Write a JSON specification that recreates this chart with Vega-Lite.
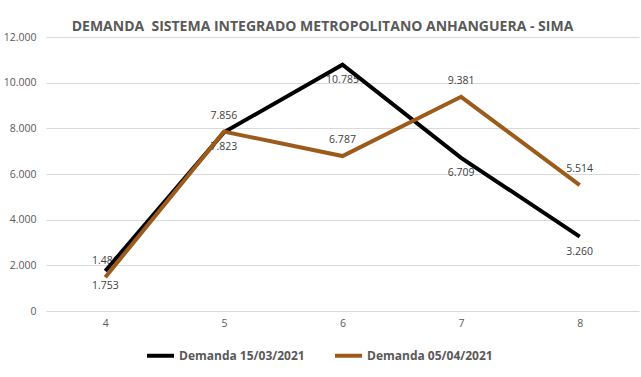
{
  "$schema": "https://vega.github.io/schema/vega-lite/v6.json",
  "autosize": {"type": "none"},
  "width": 593,
  "height": 274,
  "padding": {"left": 46, "top": 37, "right": 2, "bottom": 66},
  "background": "#ffffff",
  "title": {
    "text": "DEMANDA\u00a0 SISTEMA INTEGRADO METROPOLITANO ANHANGUERA - SIMA",
    "anchor": "middle",
    "frame": "group",
    "dx": -20,
    "dy": 18,
    "offset": 5,
    "baseline": "alphabetic",
    "font": "Open Sans",
    "fontSize": 14,
    "fontWeight": "bold",
    "color": "#595959"
  },
  "config": {
    "locale": {"number": {"decimal": ",", "thousands": ".", "grouping": [3], "currency": ["R$", ""]}},
    "view": {"stroke": null},
    "font": "Open Sans"
  },
  "data": {
    "values": [
      {"dia": 4, "serie": "Demanda 15/03/2021", "valor": 1753},
      {"dia": 5, "serie": "Demanda 15/03/2021", "valor": 7823},
      {"dia": 6, "serie": "Demanda 15/03/2021", "valor": 10785},
      {"dia": 7, "serie": "Demanda 15/03/2021", "valor": 6709},
      {"dia": 8, "serie": "Demanda 15/03/2021", "valor": 3260},
      {"dia": 4, "serie": "Demanda 05/04/2021", "valor": 1481},
      {"dia": 5, "serie": "Demanda 05/04/2021", "valor": 7856},
      {"dia": 6, "serie": "Demanda 05/04/2021", "valor": 6787},
      {"dia": 7, "serie": "Demanda 05/04/2021", "valor": 9381},
      {"dia": 8, "serie": "Demanda 05/04/2021", "valor": 5514}
    ]
  },
  "encoding": {
    "x": {
      "field": "dia",
      "type": "ordinal",
      "scale": {"type": "point", "padding": 0.5},
      "axis": {
        "title": null,
        "labelAngle": 0,
        "domain": false,
        "ticks": false,
        "grid": false,
        "labelPadding": 7,
        "labelFont": "Open Sans",
        "labelFontSize": 10.5,
        "labelColor": "#595959"
      }
    },
    "y": {
      "field": "valor",
      "type": "quantitative",
      "scale": {"domain": [0, 12000], "nice": false},
      "axis": {
        "title": null,
        "values": [0, 2000, 4000, 6000, 8000, 10000, 12000],
        "format": ",d",
        "domain": false,
        "ticks": false,
        "gridColor": "#d9d9d9",
        "gridWidth": 1,
        "labelPadding": 10,
        "labelFont": "Open Sans",
        "labelFontSize": 10.5,
        "labelColor": "#595959"
      }
    }
  },
  "layer": [
    {
      "transform": [{"filter": "datum.serie === 'Demanda 15/03/2021'"}],
      "mark": {"type": "text", "dy": 15, "baseline": "middle", "font": "Open Sans", "fontSize": 10.5, "color": "#404040"},
      "encoding": {"text": {"field": "valor", "type": "quantitative", "format": ",d"}}
    },
    {
      "transform": [{"filter": "datum.serie === 'Demanda 05/04/2021'"}],
      "mark": {"type": "text", "dy": -16, "baseline": "middle", "font": "Open Sans", "fontSize": 10.5, "color": "#404040"},
      "encoding": {"text": {"field": "valor", "type": "quantitative", "format": ",d"}}
    },
    {
      "mark": {"type": "line", "strokeWidth": 4, "strokeJoin": "miter", "strokeCap": "butt"},
      "encoding": {
        "color": {
          "field": "serie",
          "type": "nominal",
          "sort": ["Demanda 15/03/2021", "Demanda 05/04/2021"],
          "scale": {"domain": ["Demanda 15/03/2021", "Demanda 05/04/2021"], "range": ["#000000", "#9c5b1b"]},
          "legend": {
            "title": null,
            "orient": "none",
            "direction": "horizontal",
            "legendX": 99,
            "legendY": 303,
            "symbolType": "stroke",
            "symbolSize": 729,
            "symbolStrokeWidth": 4,
            "labelFont": "Open Sans",
            "labelFontSize": 12,
            "labelFontWeight": "bold",
            "labelColor": "#595959",
            "labelOffset": 3,
            "columnPadding": 22
          }
        },
        "order": {"field": "serie", "type": "nominal", "sort": "descending"}
      }
    }
  ]
}
